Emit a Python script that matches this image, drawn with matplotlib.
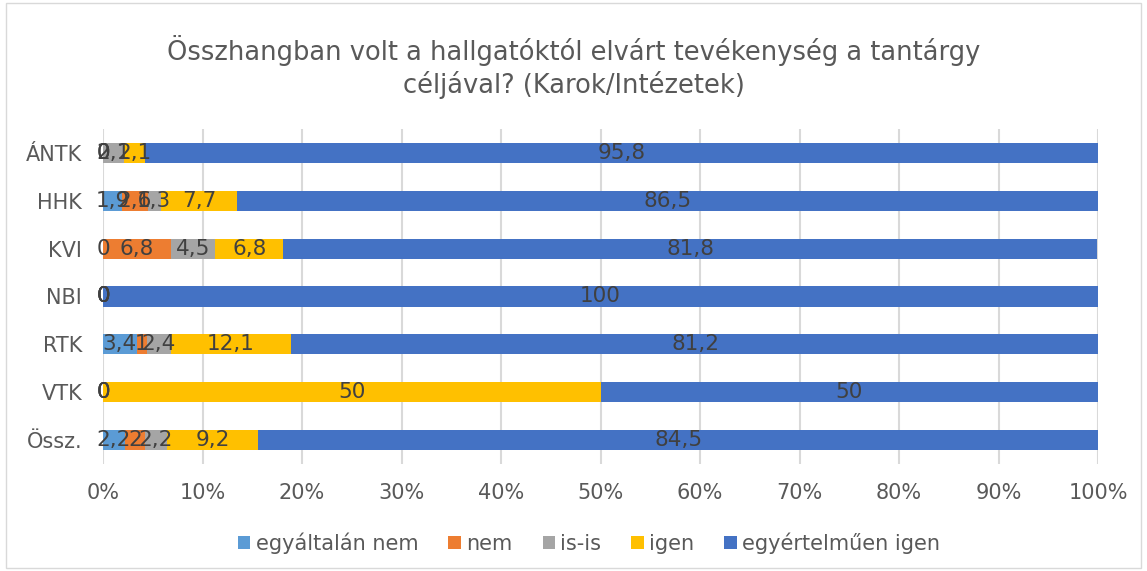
import matplotlib
matplotlib.use('Agg')
import matplotlib.pyplot as plt
from matplotlib.patches import Rectangle
import numpy as np

categories = ['ÁNTK', 'HHK', 'KVI', 'NBI', 'RTK', 'VTK', 'Össz.']
series_names = ['egyáltalán nem', 'nem', 'is-is', 'igen', 'egyértelműen igen']
egyaltalan_nem = [0, 1.9, 0, 0, 3.4, 0, 2.2]
nem = [0, 2.6, 6.8, 0, 1, 0, 2]
is_is = [2.1, 1.3, 4.5, 0, 2.4, 0, 2.2]
igen = [2.1, 7.7, 6.8, 0, 12.1, 50, 9.2]
egyertelmuen_igen = [95.8, 86.5, 81.8, 100, 81.2, 50, 84.5]
colors = ['#5B9BD5', '#ED7D31', '#A5A5A5', '#FFC000', '#4472C4']
txt = '#595959'

series = [egyaltalan_nem, nem, is_is, igen, egyertelmuen_igen]

fig = plt.figure(figsize=(11.47, 5.71), dpi=100)
ax = fig.add_axes([103 / 1147, 1 - 464 / 571, 995 / 1147, 335 / 571])

y = np.arange(len(categories))
left = np.zeros(len(categories))
for vals, name, col in zip(series, series_names, colors):
    vals = np.array(vals, dtype=float)
    ax.barh(y, vals, left=left, height=0.42, color=col, label=name, zorder=2)
    for yi, l, v in zip(y, left, vals):
        s = ('%g' % v).replace('.', ',')
        ax.text(l + v / 2, yi, s, ha='center', va='center', fontsize=15.5,
                color='#404040', zorder=3)
    left += vals

ax.set_xlim(0, 100)
ax.set_ylim(len(categories) - 0.5, -0.5)
ax.set_yticks(y)
ax.set_yticklabels(categories)
ax.set_xticks(np.arange(0, 101, 10))
ax.set_xticklabels(['%d%%' % v for v in range(0, 101, 10)])
ax.tick_params(axis='both', length=0, labelsize=15, colors=txt)
ax.tick_params(axis='x', pad=14)
ax.tick_params(axis='y', pad=15)
ax.grid(axis='x', color='#D9D9D9', linewidth=1.5, zorder=0)
for sp in ax.spines.values():
    sp.set_visible(False)

fig.text(0.5, 1 - 50 / 571, 'Összhangban volt a hallgatóktól elvárt tevékenység a tantárgy',
         ha='center', va='center', fontsize=18.5, color=txt)
fig.text(0.5, 1 - 85 / 571, 'céljával? (Karok/Intézetek)',
         ha='center', va='center', fontsize=18.5, color=txt)

handles, labels = ax.get_legend_handles_labels()
fig.legend(handles, labels, loc='center', bbox_to_anchor=(589 / 1147, 1 - 543 / 571),
           ncol=5, frameon=False, fontsize=15, labelcolor=txt,
           handlelength=0.6, handleheight=0.6, handletextpad=0.25, columnspacing=1.45)

fig.patches.append(Rectangle((6 / 1147, 0.005), 1 - 12 / 1147, 0.99,
                             transform=fig.transFigure, fill=False,
                             edgecolor='#D9D9D9', linewidth=1))

fig.savefig('out.png', dpi=100, facecolor='white')
